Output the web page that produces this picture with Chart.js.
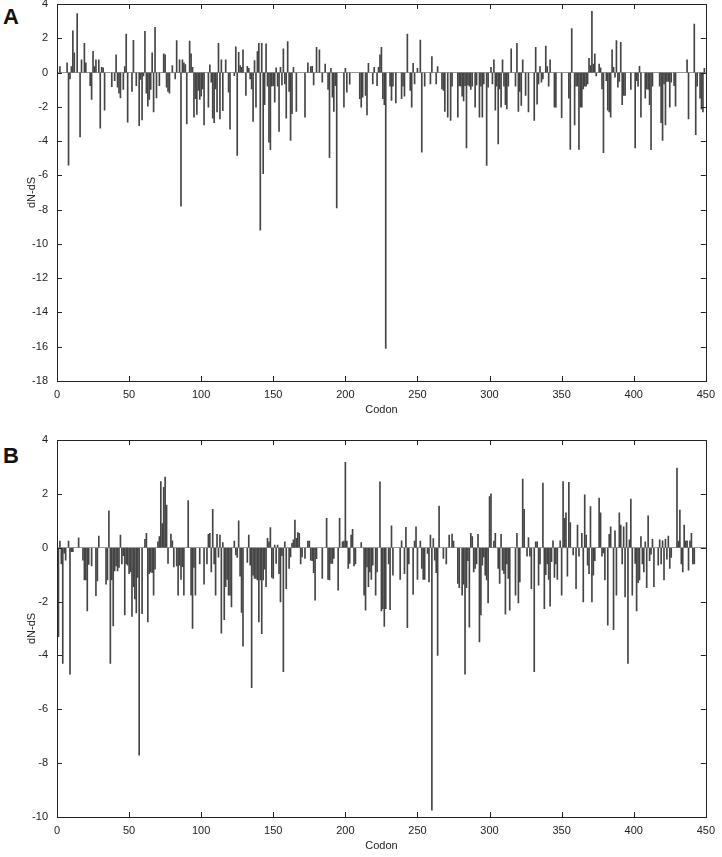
<!DOCTYPE html>
<html>
<head>
<meta charset="utf-8">
<script src="https://cdn.jsdelivr.net/npm/chart.js@4"></script>
<style>
  body { margin: 0; background: #fff; width: 722px; height: 857px; position: relative; overflow: hidden; }
  canvas { position: absolute; left: 0; }
  .tag { position: absolute; left: 3px; font: bold 22px "Liberation Sans", Arial, sans-serif; color: #111; }
</style>
</head>
<body>
<div class="tag" style="top:4px">A</div>
<div class="tag" style="top:443px">B</div>
<canvas id="panelA" width="722" height="424" style="top:-4px"></canvas>
<canvas id="panelB" width="722" height="424" style="top:432px"></canvas>
<script>
// panel A: dN-dS per codon
var codonsA = [2,7,8,9,10,11,12,14,16,17,19,20,23,24,25,26,27,29,30,31,32,33,38,40,41,42,43,44,46,47,48,49,52,53,55,57,58,59,60,61,62,63,64,65,66,67,68,69,71,74,75,76,77,78,80,82,83,85,86,87,88,89,90,92,93,94,95,96,97,98,99,100,101,102,105,106,107,108,109,110,111,112,113,114,115,117,119,120,123,124,125,126,127,128,129,131,132,133,134,135,136,137,138,139,140,141,142,143,144,145,146,147,148,149,150,151,152,153,154,155,156,157,158,159,160,161,162,163,164,166,172,174,176,177,178,180,182,184,186,188,189,190,191,192,193,194,199,200,201,203,210,211,212,214,215,216,219,220,222,223,224,225,226,227,228,231,232,233,235,239,240,241,243,245,246,247,248,250,252,253,255,259,260,263,264,267,268,269,271,273,274,278,279,280,281,282,283,284,285,286,287,288,290,291,293,294,295,296,298,299,301,302,303,304,305,306,307,308,309,310,311,312,313,315,318,319,320,321,322,323,325,327,331,332,333,334,335,336,337,339,340,341,342,345,346,350,355,356,357,359,360,361,362,363,364,365,366,367,368,369,370,371,372,373,374,376,377,378,379,381,382,383,384,385,386,387,388,389,390,391,392,393,394,398,401,402,403,404,405,408,409,410,411,412,413,418,419,420,421,422,423,424,425,426,428,429,437,438,442,443,444,446,447,448,449];
var dndsA = [0.35,0.56,-5.4,-0.37,0.35,2.43,1.15,3.44,-3.75,0.74,1.71,0.56,-0.76,-1.57,1.24,0.35,0.74,0.74,-3.24,0.3,0.27,-2.2,-0.82,-0.47,1.03,-0.85,-1.2,-1.48,-0.99,0.35,2.25,-2.9,-1.1,1.88,-0.76,-3.1,-0.4,-2.77,-0.2,2.4,-1.2,-1.96,-1.57,-0.99,1.15,-2.3,2.64,-1.48,-0.76,1.09,1.03,-0.85,-1.1,-1.2,0.4,-0.37,1.86,0.74,-7.8,0.74,0.56,0.47,-3.0,1.84,1.09,0.3,-2.6,-1.53,-2.45,-1.05,-1.57,-1.38,-0.95,-3.05,-2.02,0.45,-0.56,-2.66,-2.93,-0.95,-2.3,1.71,-2.7,0.74,-2.23,0.74,-1.15,-3.3,-0.18,1.5,-4.84,1.18,0.4,0.3,1.32,-1.34,0.37,0.25,-0.37,-0.95,-2.85,0.7,-2.02,1.22,1.7,-9.2,1.71,-5.9,-1.88,1.67,-0.8,-4.06,-4.5,-0.8,-0.76,-1.73,0.27,-0.8,-3.44,0.3,-0.72,1.38,-0.66,-2.66,1.8,-1.1,-3.96,-2.4,0.3,-2.27,-2.6,0.56,0.35,0.37,-0.72,1.47,1.32,-0.56,0.49,-0.99,-4.97,0.25,-1.44,-2.27,-0.76,-7.9,-2.02,0.25,-1.15,-0.68,-1.53,-2.02,-1.44,-1.34,-2.47,0.54,-0.66,0.3,-0.76,0.3,1.03,1.47,-1.53,-1.88,-16.1,-0.8,-1.63,-0.8,-1.77,-1.53,-0.8,-1.38,2.25,-1.05,-2.02,0.54,-0.66,0.25,1.9,-4.64,-0.8,-0.66,0.93,-0.66,0.35,-0.95,-1.05,-2.27,-2.6,-2.8,-0.8,-2.6,-0.76,-0.8,-1.38,-1.65,-0.76,-4.4,-0.72,-0.8,-0.99,-0.8,-2.02,-0.72,-2.6,-0.8,-2.6,-0.66,-5.42,-0.85,0.3,-0.66,0.74,-2.2,-0.8,-4.16,-0.95,-2.02,0.74,-0.8,-1.88,-2.12,-0.8,1.38,-0.8,1.71,-2.27,-1.1,-1.92,0.74,-1.34,-2.3,-2.8,1.47,-1.84,-0.66,0.35,-0.56,-0.37,1.55,0.35,-0.8,0.74,-2.02,-2.02,-2.64,-1.5,-4.48,2.56,-3.05,-0.8,-0.8,-4.48,-2.02,-2.02,-0.95,-0.8,-0.8,-0.66,0.83,0.4,3.57,0.5,1.09,-0.2,0.5,0.27,-0.95,-4.68,-0.47,-2.2,-2.3,-2.6,1.32,0.3,-0.27,1.86,-0.85,-0.52,1.77,-1.88,-1.34,-1.34,-0.99,-4.4,-0.47,-0.8,0.37,-2.6,-1.5,-0.95,-0.99,-1.88,-4.5,-0.8,-0.8,-2.93,-3.96,-0.66,-3.05,-0.52,-0.52,-2.02,-0.56,-0.76,-1.96,0.74,-2.7,2.83,-3.63,-0.8,-1.5,-2.12,-2.3,0.25];

// panel B: dN-dS per codon
var codonsB = [1,2,3,4,5,6,8,9,10,11,15,18,19,20,21,22,24,27,28,29,34,35,36,37,38,39,40,41,42,43,44,45,46,47,48,49,50,51,52,53,54,55,56,57,59,61,62,63,64,65,66,67,68,70,71,72,73,74,75,76,77,79,80,81,83,84,85,86,87,88,91,93,94,95,96,99,102,104,105,106,107,108,109,110,111,112,113,114,115,116,117,118,119,120,121,123,124,125,126,127,128,129,132,133,134,135,136,137,138,139,140,141,142,143,144,145,146,147,148,149,150,151,152,153,154,155,156,157,158,159,161,162,163,164,165,166,167,168,169,170,172,174,175,176,177,178,179,180,184,187,188,189,190,191,192,195,196,198,199,200,201,202,203,204,205,206,207,211,213,214,215,216,217,218,219,221,222,224,225,226,227,228,230,231,232,233,238,239,241,242,243,244,247,248,249,250,252,253,254,255,257,258,259,260,261,262,263,264,265,268,270,272,274,275,278,279,281,282,283,284,285,286,287,288,289,290,291,292,293,294,295,296,297,298,299,300,301,303,304,306,307,308,309,310,311,312,313,314,318,319,320,321,323,324,326,327,328,329,331,332,333,334,335,337,338,339,340,341,342,343,344,345,346,347,349,350,351,352,353,354,355,356,358,360,361,362,364,365,366,367,368,369,370,371,372,373,376,377,378,379,380,382,383,384,386,387,388,390,391,392,393,394,395,396,397,398,399,401,402,403,404,405,406,407,408,409,410,411,412,413,414,417,418,419,420,421,422,423,424,425,426,430,431,432,433,434,435,436,437,438,439,440,441,442];
var dndsB = [-3.3,0.25,-0.6,-4.3,-0.2,-0.46,0.25,-4.7,-0.15,-0.15,0.37,-0.46,-1.2,-1.2,-2.35,-0.62,-0.68,-1.78,-1.23,0.43,-1.35,-1.2,1.37,-4.3,-1.2,-2.9,-0.86,-0.68,-0.86,-0.73,0.47,-0.6,-0.3,-2.5,-0.6,-0.65,-0.96,-0.9,-2.55,-1.45,-1.9,-2.42,-1.1,-7.7,-2.45,0.31,0.53,-2.76,-0.96,-0.9,-0.93,-1.76,-0.8,0.22,0.41,2.46,0.9,2.24,2.62,1.58,-0.58,0.51,0.26,-0.71,-0.68,-1.76,-0.65,-1.18,-0.7,-1.76,1.75,-1.76,-3.0,-0.73,-1.76,-0.6,-1.35,-0.6,0.5,0.53,-0.9,1.43,-0.6,-1.76,0.5,-0.35,0.47,-3.17,0.19,-2.67,-1.45,-1.18,-1.76,-1.76,-2.2,0.25,-0.27,-0.36,1.0,-1.06,-2.4,-3.66,-0.55,0.47,-0.65,-5.2,-1.02,-1.14,-1.14,-1.2,-2.76,-1.2,-3.19,-1.2,-0.8,-1.45,0.35,0.22,0.75,-1.1,-1.14,0.1,-0.58,0.1,-0.96,-2.01,-0.3,-4.6,0.22,-1.52,-0.77,-0.34,0.16,0.29,1.03,0.35,0.56,0.53,-0.6,-0.34,-0.4,0.25,0.25,-0.46,-0.48,-0.93,-1.95,-0.41,-1.14,1.09,-1.18,-1.2,-0.58,-0.58,-0.4,-1.58,1.09,0.22,0.25,3.17,0.25,-0.77,-0.58,0.47,0.68,-0.68,-0.6,0.19,-1.76,-2.32,-0.71,-1.45,-0.9,-1.18,-0.65,-1.76,-0.9,2.45,-2.35,-2.26,-2.92,-2.26,-0.6,-2.3,0.81,-1.02,-1.18,0.26,-0.96,0.76,-2.97,-0.6,-1.73,0.25,0.78,-1.18,0.25,-0.77,-1.18,-1.18,-0.21,-1.27,0.47,-9.75,0.34,-0.46,-0.93,-4.0,1.55,-0.4,-0.6,0.47,0.51,0.25,-1.33,-1.48,-1.76,-1.35,-4.7,-1.48,-0.48,-2.95,0.53,0.41,-0.9,-0.77,-0.6,0.5,-3.5,-2.5,-0.65,-0.34,-1.02,-1.2,-2.05,1.9,2.0,0.25,0.53,-0.77,-1.33,0.5,-0.83,-0.96,-2.47,-0.6,-1.14,-2.32,-1.76,0.53,-2.05,-1.27,2.55,1.43,-0.31,0.38,-0.31,-1.52,-4.6,0.22,0.22,-1.39,-0.6,2.4,-2.26,-1.0,-0.6,-1.18,-2.17,-0.52,0.26,-1.1,-0.6,-1.18,0.26,-1.76,2.46,1.09,1.3,-1.06,2.43,0.93,-0.27,-1.52,0.84,-0.31,0.53,-2.01,1.96,0.47,-0.65,-0.96,1.53,-2.01,-1.02,-0.48,1.84,1.3,-0.31,-0.19,-1.2,-2.88,0.5,0.78,-3.04,0.63,-1.76,1.3,0.84,-0.6,0.78,-1.83,0.93,-4.3,0.29,1.81,-1.76,-0.58,-2.35,-1.3,-1.2,0.41,-0.6,-0.9,0.22,-1.48,1.18,-0.48,-0.24,0.31,-1.45,-0.65,0.29,-0.6,0.26,-1.2,0.31,-0.43,0.43,-0.77,-0.36,2.96,0.25,1.4,-0.6,-0.9,0.84,0.25,0.26,-0.83,0.26,0.53,-0.6,-0.6];

var yRangeA = [-18, 4];
var yRangeB = [-10, 4];
var xRange = [0, 450];

var FONT = '"Liberation Sans", Arial, sans-serif';

// box + inward ticks on all four sides
var framePlugin = {
  id: 'frame',
  afterDraw: function(chart) {
    var ctx = chart.ctx, a = chart.chartArea;
    var xs = chart.scales.x, ys = chart.scales.y;
    ctx.save();
    ctx.strokeStyle = '#222';
    ctx.lineWidth = 1;
    ctx.strokeRect(Math.round(a.left) + 0.5, Math.round(a.top) + 0.5, Math.round(a.right - a.left), Math.round(a.bottom - a.top));
    ctx.beginPath();
    xs.ticks.forEach(function(t) {
      var px = Math.round(xs.getPixelForValue(t.value)) + 0.5;
      ctx.moveTo(px, a.bottom); ctx.lineTo(px, a.bottom - 5);
      ctx.moveTo(px, a.top); ctx.lineTo(px, a.top + 5);
    });
    ys.ticks.forEach(function(t) {
      var py = Math.round(ys.getPixelForValue(t.value)) + 0.5;
      ctx.moveTo(a.left, py); ctx.lineTo(a.left + 5, py);
      ctx.moveTo(a.right, py); ctx.lineTo(a.right - 5, py);
    });
    ctx.stroke();
    ctx.restore();
  }
};

function makePanel(id, codons, values, yRange) {
  var points = codons.map(function(c, i) { return { x: c, y: values[i] }; });
  var ctx = document.getElementById(id).getContext('2d');
  return new Chart(ctx, {
    type: 'bar',
    data: {
      datasets: [{
        data: points,
        backgroundColor: '#444',
        borderWidth: 0,
        barThickness: 1
      }]
    },
    options: {
      responsive: false,
      animation: false,
      layout: { padding: { top: 8, left: 25, right: 13, bottom: 3 } },
      plugins: { legend: { display: false }, tooltip: { enabled: false } },
      scales: {
        x: {
          type: 'linear',
          offset: false,
          min: xRange[0], max: xRange[1],
          afterFit: function(s) { s.height = 36; },
          grid: { display: false, drawTicks: false },
          border: { display: false },
          ticks: { stepSize: 50, padding: 7, color: '#222', font: { family: FONT, size: 11 } },
          title: { display: true, text: 'Codon', padding: 0, color: '#222', font: { family: FONT, size: 11 } }
        },
        y: {
          min: yRange[0], max: yRange[1],
          afterFit: function(s) { s.width = 32; s.paddingTop = 0; s.paddingBottom = 0; },
          grid: {
            drawTicks: false,
            color: function(c) { return c.tick && c.tick.value === 0 ? '#999' : 'rgba(0,0,0,0)'; }
          },
          border: { display: false },
          ticks: { stepSize: 2, padding: 9, color: '#222', font: { family: FONT, size: 11 } },
          title: { display: true, text: 'dN-dS', padding: 0, color: '#222', font: { family: FONT, size: 11 } }
        }
      }
    },
    plugins: [framePlugin]
  });
}

window.onload = function() {
  window.chartA = makePanel('panelA', codonsA, dndsA, yRangeA);
  window.chartB = makePanel('panelB', codonsB, dndsB, yRangeB);
};
</script>
</body>
</html>
